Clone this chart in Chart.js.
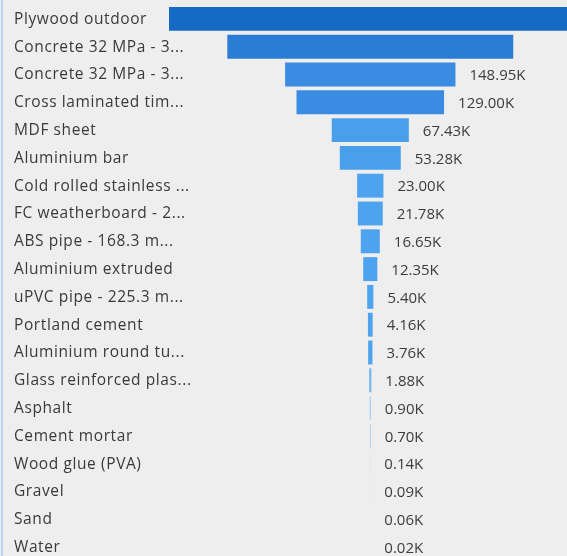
<!DOCTYPE html>
<html>
<head>
<meta charset="utf-8">
<title>Material usage funnel</title>
<script src="https://cdn.jsdelivr.net/npm/chart.js@4.4.1/dist/chart.umd.min.js"></script>
<style>
  html, body { margin: 0; padding: 0; background: #eeeeee; overflow: hidden; }
  #wrap {
    position: absolute; left: 1px; top: 0;
    width: 566px; height: 561px;
    border-left: 2px solid #b7d3ee;
  }
</style>
</head>
<body>
<div id="wrap"><canvas id="funnel" width="564" height="561"></canvas></div>
<script>
// materials, largest first (values in thousands)
const categories = [
  "Plywood outdoor",
  "Concrete 32 MPa - 3...",
  "Concrete 32 MPa - 3...",
  "Cross laminated tim...",
  "MDF sheet",
  "Aluminium bar",
  "Cold rolled stainless ...",
  "FC weatherboard - 2...",
  "ABS pipe - 168.3 m...",
  "Aluminium extruded",
  "uPVC pipe - 225.3 m...",
  "Portland cement",
  "Aluminium round tu...",
  "Glass reinforced plas...",
  "Asphalt",
  "Cement mortar",
  "Wood glue (PVA)",
  "Gravel",
  "Sand",
  "Water"
];
const valuesK = [352, 250, 148.95, 129.00, 67.43, 53.28, 23.00, 21.78, 16.65, 12.35,
                 5.40, 4.16, 3.76, 1.88, 0.90, 0.70, 0.14, 0.09, 0.06, 0.02];
const barColors = ["#156bc3", "#2a7dd5", "#3a8ce2", "#3a8ce2",
                   "#4a9feb", "#4a9feb", "#4ea3ef", "#4ea3ef", "#4ea3ef", "#4ea3ef",
                   "#4ea3ef", "#4ea3ef", "#4ea3ef", "#6fb4f0", "#9cc8ee", "#a8cdee",
                   "#b8d5ee", "#c4dbee", "#c8ddee", "#cddfee"];

// funnel bars are centred on zero
const spans = valuesK.map(v => [-v / 2, v / 2]);

// category names may run past the axis box, so they are drawn here
// instead of through the (clipped) tick labels
const categoryLabels = {
  id: "categoryLabels",
  afterDraw(chart) {
    const ctx = chart.ctx;
    const y = chart.scales.y;
    ctx.save();
    ctx.font = "15.5px 'Open Sans'";
    ctx.letterSpacing = "0.6px";
    ctx.fillStyle = "#3a3a3a";
    ctx.textBaseline = "middle";
    ctx.textAlign = "left";
    categories.forEach((name, i) => {
      ctx.fillText(name, y.left, y.getPixelForValue(i) + 0.5);
    });
    ctx.restore();
  }
};

const valueLabels = {
  id: "valueLabels",
  afterDatasetsDraw(chart) {
    const ctx = chart.ctx;
    const meta = chart.getDatasetMeta(0);
    const area = chart.chartArea;
    ctx.save();
    ctx.font = "15px 'Open Sans'";
    ctx.fillStyle = "#3c3c3c";
    ctx.textBaseline = "middle";
    ctx.textAlign = "left";
    meta.data.forEach((bar, i) => {
      const text = valuesK[i].toFixed(2) + "K";
      const x = bar.x + 14;
      // skip labels that would run past the plot
      if (x + ctx.measureText(text).width > area.right) return;
      ctx.fillText(text, x, bar.y + 1.5);
    });
    ctx.restore();
  }
};

new Chart(document.getElementById("funnel"), {
  type: "bar",
  data: {
    labels: categories,
    datasets: [{
      data: spans,
      backgroundColor: barColors,
      borderWidth: 0,
      borderSkipped: false,
      categoryPercentage: 1,
      barPercentage: 0.86
    }]
  },
  options: {
    indexAxis: "y",
    responsive: false,
    animation: false,
    layout: { padding: { left: 11, top: 5, right: 0, bottom: 0 } },
    plugins: { legend: { display: false }, tooltip: { enabled: false } },
    scales: {
      x: {
        display: false,
        min: -valuesK[0] / 2,
        max: 172
      },
      y: {
        grid: { display: false },
        border: { display: false },
        afterFit(scale) { scale.width = 155; },
        ticks: {
          display: false,
          font: { family: "'Open Sans'", size: 15.5 },
          autoSkip: false
        }
      }
    }
  },
  plugins: [valueLabels, categoryLabels]
});
</script>
</body>
</html>
